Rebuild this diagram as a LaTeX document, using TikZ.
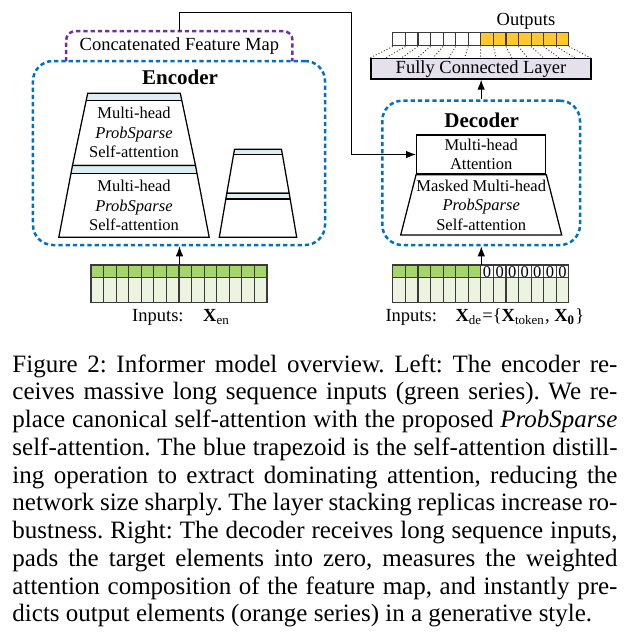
\documentclass[tikz,border=0pt]{standalone}
\usepackage{fontspec}
\setmainfont{Liberation Serif}
\usetikzlibrary{arrows.meta, calc}
\definecolor{dashblue}{HTML}{0070C0}
\definecolor{dashpurple}{HTML}{7030A0}
\definecolor{seqgreen}{HTML}{A5D66C}
\definecolor{seqpale}{HTML}{EDF3E1}
\definecolor{bandblue}{HTML}{DAEEF3}
\definecolor{fclilac}{HTML}{E5E0EC}
\definecolor{outgold}{HTML}{FFC82C}
\definecolor{cellline}{HTML}{3A3A3A}

\tikzset{
  stackbox/.style={draw=dashblue, line width=1pt, dash pattern=on 1.7pt off 1.2pt, rounded corners=8pt, inner sep=0pt},
  concatline/.style={draw=dashpurple, line width=1pt, dash pattern=on 1.7pt off 1.2pt, rounded corners=3.5pt},
  blockline/.style={draw=black, line width=0.5pt},
  blocktext/.style={align=center, font=\fontsize{6.6}{7.8}\selectfont, inner sep=0pt},
  labeltext/.style={font=\fontsize{7.4}{8.5}\selectfont, inner sep=0pt},
  titletext/.style={font=\fontsize{8.4}{10}\selectfont\bfseries, inner sep=0pt},
  seqcell/.style={draw=cellline, line width=0.45pt},
  fanline/.style={draw=black!80, line width=0.35pt, dash pattern=on 0.4pt off 0.8pt},
  arrowline/.style={-{Latex[length=4pt, width=3pt]}, line width=0.45pt},
}

% one attention block: centre x, top y, bottom y, top half width, bottom half width, band height
\newcommand\attblock[6]{%
  \coordinate (tl) at ({#1-#4},#2);
  \coordinate (tr) at ({#1+#4},#2);
  \coordinate (bl) at ({#1-#5},#3);
  \coordinate (br) at ({#1+#5},#3);
  \pgfmathsetmacro\bandfrac{#6/(#3-#2)}
  \fill[white] (tl) -- (tr) -- (br) -- (bl) -- cycle;
  \fill[bandblue] (tl) -- (tr) -- ($(tr)!\bandfrac!(br)$) -- ($(tl)!\bandfrac!(bl)$) -- cycle;
  \draw[blockline] (tl) -- (tr) -- (br) -- (bl) -- cycle;
  \draw[blockline] ($(tl)!\bandfrac!(bl)$) -- ($(tr)!\bandfrac!(br)$);
}

\begin{document}
\begin{tikzpicture}[x=0.4pt, y=-0.4pt]
  \useasboundingbox (0,0) rectangle (630,642);

  % Encoder
  \node[stackbox, minimum width=116.8pt, minimum height=73.6pt] (enc) at (179,153) {};
  \node[labeltext, minimum width=90.1pt, minimum height=11.7pt] (cfm) at (179.35,46.35) {Concatenated Feature Map};
  \draw[concatline] (cfm.south west) -- (cfm.north west) -- (cfm.north east) -- (cfm.south east);
  \node[titletext] (enctitle) at (180,77) {Encoder};

  \attblock{134}{93.3}{165.5}{46.3}{61.5}{7.4}
  \attblock{134}{165.5}{237.3}{61.5}{75.2}{7.8}
  \attblock{258}{149.3}{193.3}{23.5}{31.2}{5.4}
  \attblock{258}{193.3}{237.3}{31.2}{38.7}{5.7}
  \node[blocktext] (encupper) at (134,132.7) {Multi-head\\\textit{ProbSparse}\\Self-attention};
  \node[blocktext] (enclower) at (134,205.5) {Multi-head\\\textit{ProbSparse}\\Self-attention};

  % Encoder inputs
  \node[minimum width=70.4pt, minimum height=15.12pt, inner sep=0pt] (encin) at (179.5,284.4) {};
  \foreach \i in {0,...,13} {
    \draw[seqcell, fill=seqgreen] ($(encin.north west)+(\i*12.5714,0)$) rectangle +(12.5714,12.5);
    \draw[seqcell, fill=seqpale] ($(encin.north west)+(\i*12.5714,12.5)$) rectangle +(12.5714,25.3);
  }
  \node[labeltext, anchor=base west] (encinlbl) at (131.7,321.7) {Inputs:};
  \node[labeltext, anchor=base west] (encinsym) at (202.7,321.7) {\textbf{X}\textsubscript{en}};
  \draw[arrowline] (encin.north) -- (encin.north |- enc.south);

  % Decoder
  \node[stackbox, minimum width=79.08pt, minimum height=57.72pt] (dec) at (481.15,172.85) {};
  \node[titletext] (dectitle) at (481.7,120) {Decoder};
  \node[blockline, fill=white, blocktext, minimum width=51.6pt, minimum height=15.6pt] (attn) at (481.2,154.5) {Multi-head\\Attention};
  \draw[blockline, fill=white] (attn.south west) -- (attn.south east) -- (561.7,235) -- (400.7,235) -- cycle;
  \node[blocktext] (decmasked) at (481.2,205) {Masked Multi-head\\\textit{ProbSparse}\\Self-attention};

  % Decoder inputs (start token + zero padding)
  \node[minimum width=70.4pt, minimum height=15.12pt, inner sep=0pt] (decin) at (481.3,284.4) {};
  \foreach \i in {0,...,13} {
    \draw[seqcell, fill=seqpale] ($(decin.north west)+(\i*12.5714,12.5)$) rectangle +(12.5714,25.3);
  }
  \foreach \i in {0,...,6} {
    \draw[seqcell, fill=seqgreen] ($(decin.north west)+(\i*12.5714,0)$) rectangle +(12.5714,12.5);
  }
  \foreach \i in {7,...,13} {
    \draw[seqcell, fill=white] ($(decin.north west)+(\i*12.5714,0)$) rectangle +(12.5714,12.5);
    \node[blocktext] (zero\i) at ($(decin.north west)+(\i*12.5714+6.2857,6.6)$) {0};
  }
  \node[labeltext, anchor=base west] (decinlbl) at (385,321.7) {Inputs:};
  \node[labeltext, anchor=base west] (decinsym) at (455,321.7)
    {\textbf{X}\textsubscript{de}=\{\textbf{X}\textsubscript{token}, \textbf{X}\textsubscript{\textbf{0}}\}};
  \draw[arrowline] (decin.north) -- (decin.north |- dec.south);

  % Output layer
  \node[blockline, fill=fclilac, labeltext, minimum width=88pt, minimum height=8.28pt] (fc) at (481,68.65) {Fully Connected Layer};
  \node[minimum width=70.4pt, minimum height=5.08pt, inner sep=0pt] (outrow) at (481.3,39.65) {};
  \foreach \i in {0,...,6} {
    \draw[seqcell, fill=white] ($(outrow.north west)+(\i*12.5714,0)$) rectangle +(12.5714,12.7);
  }
  \foreach \i in {7,...,13} {
    \draw[seqcell, fill=outgold] ($(outrow.north west)+(\i*12.5714,0)$) rectangle +(12.5714,12.7);
  }
  \foreach \i in {0,...,14} {
    \draw[fanline] ($(outrow.south west)+(\i*12.5714,0)$) -- ($(fc.north west)+(\i*15.7143,0)$);
  }
  \node[labeltext] (outlbl) at (526,21.7) {Outputs};
  \draw[arrowline] (dec.north) -- (dec.north |- fc.south);

  % Feature map into decoder
  \coordinate (bend) at (351.7,12.7);
  \draw[arrowline] (cfm.north) |- (bend) |- (attn.west);

  % Caption
  \node[anchor=north west, text width=242pt, align=justify, inner sep=0pt,
        font=\fontsize{10}{11.1}\selectfont] (caption) at (12,354)
    {\tolerance=10000\frenchspacing\noindent Figure 2: Informer model overview. Left: The encoder re-\linebreak
     ceives massive long sequence inputs (green series). We re-\linebreak
     place canonical self-attention with the proposed \textit{ProbSparse}\linebreak
     self-attention. The blue trapezoid is the self-attention distill-\linebreak
     ing operation to extract dominating attention, reducing the\linebreak
     network size sharply. The layer stacking replicas increase ro-\linebreak
     bustness. Right: The decoder receives long sequence inputs,\linebreak
     pads the target elements into zero, measures the weighted\linebreak
     attention composition of the feature map, and instantly pre-\linebreak
     dicts output elements (orange series) in a generative style.};
\end{tikzpicture}
\end{document}
